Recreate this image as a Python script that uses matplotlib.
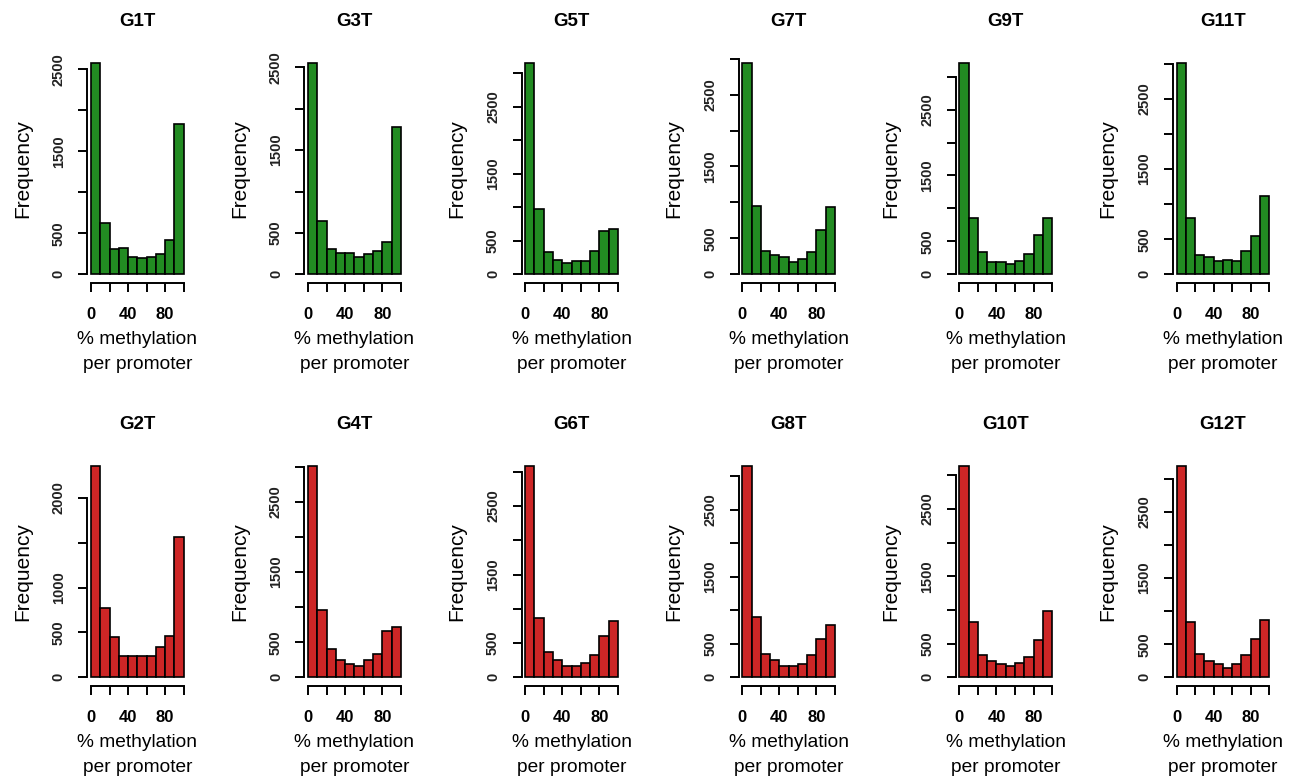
import numpy as np
import matplotlib
matplotlib.use("Agg")
import matplotlib.pyplot as plt

plt.rcParams['font.family'] = ['Liberation Sans', 'DejaVu Sans']

# histogram bins (% methylation per promoter)
bin_edges = [0, 10, 20, 30, 40, 50, 60, 70, 80, 90, 100]

# top row (green) and bottom row (red) sample names
top_names = ["G1T", "G3T", "G5T", "G7T", "G9T", "G11T"]
bottom_names = ["G2T", "G4T", "G6T", "G8T", "G10T", "G12T"]

# counts per bin
counts = {
    "G1T":  [2577, 629, 305, 321, 215, 195, 211, 248, 418, 1833],
    "G3T":  [2552, 644, 306, 261, 261, 205, 245, 285, 386, 1779],
    "G5T":  [3149, 972, 327, 217, 168, 193, 193, 351, 640, 679],
    "G7T":  [2940, 949, 329, 264, 241, 176, 218, 306, 620, 931],
    "G9T":  [3207, 848, 333, 192, 192, 152, 197, 308, 601, 848],
    "G11T": [3011, 800, 270, 250, 185, 207, 189, 335, 544, 1116],
    "G2T":  [2353, 775, 445, 241, 241, 241, 241, 341, 460, 1559],
    "G4T":  [3013, 955, 404, 252, 185, 162, 252, 333, 656, 718],
    "G6T":  [3084, 861, 365, 258, 165, 165, 214, 321, 603, 827],
    "G8T":  [3151, 905, 348, 263, 169, 169, 194, 328, 577, 785],
    "G10T": [3139, 822, 327, 238, 193, 168, 213, 307, 554, 990],
    "G12T": [3195, 841, 352, 242, 197, 145, 197, 333, 584, 871],
}

x_ticks = [0, 20, 40, 60, 80, 100]
x_ticklabels = ["0", "", "40", "", "80", ""]
y_ticks_2500 = [0, 500, 1000, 1500, 2000, 2500]
y_labels_2500 = ["0", "500", "", "1500", "", "2500"]
y_ticks_3000 = [0, 500, 1000, 1500, 2000, 2500, 3000]
y_labels_3000 = ["0", "500", "", "1500", "", "2500", ""]
y_ticks_2000 = [0, 500, 1000, 1500, 2000]
y_labels_2000 = ["0", "500", "1000", "", "2000"]

y_axis = {
    "G1T": (y_ticks_2500, y_labels_2500),
    "G3T": (y_ticks_2500, y_labels_2500),
    "G2T": (y_ticks_2000, y_labels_2000),
}

green = "#228B22"
red = "#CD2626"

W, H = 1296, 783
fig = plt.figure(figsize=(W / 100, H / 100), dpi=100)

col_left = 87.3
col_step = 217.1
panel_w = 100.1
rows = [(54.5, 282.8), (457.5, 685.8)]


def draw_panel(ax, name, color):
    vals = counts[name]
    edges = np.array(bin_edges)
    ax.bar(edges[:-1], vals, width=np.diff(edges), align="edge",
           color=color, edgecolor="black", linewidth=1.2)
    top = max(vals)
    ax.set_xlim(-4, 104)
    ax.set_ylim(-0.04 * top, 1.04 * top)
    yt, yl = y_axis.get(name, (y_ticks_3000, y_labels_3000))
    ax.set_xticks(x_ticks)
    ax.set_xticklabels(x_ticklabels, fontsize=12, fontweight="bold", va="center")
    ax.set_yticks(yt)
    ax.set_yticklabels(yl, fontsize=10.5, fontweight="bold", rotation=90,
                       va="center", ha="center", color="#222222")
    ax.tick_params(axis="x", length=9 / 1.389, width=1.4, pad=22.5 / 1.389)
    ax.tick_params(axis="y", length=9 / 1.389, width=1.4, pad=19.5 / 1.389)
    for s in ["top", "right"]:
        ax.spines[s].set_visible(False)
    ax.spines["left"].set_bounds(0, yt[-1])
    ax.spines["bottom"].set_bounds(0, 100)
    ax.spines["left"].set_linewidth(1.4)
    ax.spines["bottom"].set_linewidth(1.4)
    ax.patch.set_visible(False)

    ax.annotate(name, (0.5, 1), xycoords="axes fraction", xytext=(0, 28.5),
                textcoords="offset pixels", ha="center", va="baseline",
                fontsize=13.5, fontweight="bold")
    ax.annotate("Frequency", (0, 0.5), xycoords="axes fraction", xytext=(-64.8, 0),
                textcoords="offset pixels", ha="center", va="center",
                rotation=90, fontsize=15)
    ax.annotate("% methylation", (0.5, 0), xycoords="axes fraction", xytext=(0, -57),
                textcoords="offset pixels", ha="center", va="center", fontsize=13.8)
    ax.annotate("per promoter", (0.5, 0), xycoords="axes fraction", xytext=(0, -82),
                textcoords="offset pixels", ha="center", va="center", fontsize=13.8)


for r, (names, color) in enumerate([(top_names, green), (bottom_names, red)]):
    y_top, y_bot = rows[r]
    for k, name in enumerate(names):
        left = (col_left + col_step * k) / W
        bottom = 1 - y_bot / H
        height = (y_bot - y_top) / H
        ax = fig.add_axes([left, bottom, panel_w / W, height])
        draw_panel(ax, name, color)

fig.savefig("out.png", dpi=100)
